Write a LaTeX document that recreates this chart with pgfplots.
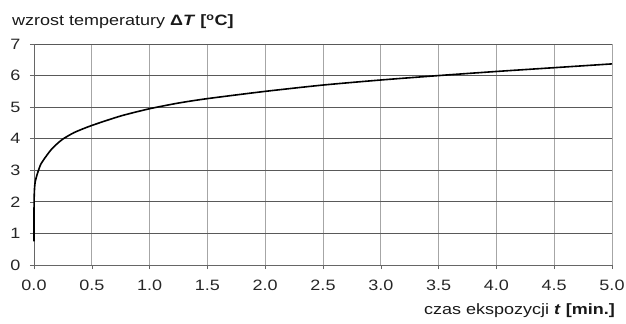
\documentclass[border=0pt]{standalone}
\usepackage{pgfplots}
\pgfplotsset{compat=1.18}
\usepackage{fontspec}
\setmainfont{Liberation Sans}[FakeStretch=1.2]
\begin{document}
\begin{tikzpicture}
\begin{axis}[
  at={(0,0)}, anchor=south west,
  scale only axis,
  width=578bp, height=221bp,
  xmin=0, xmax=5, ymin=0, ymax=7,
  xtick={0,0.5,...,5}, ytick={0,1,...,7},
  xticklabel style={yshift=-8bp, /pgf/number format/.cd,fixed,fixed zerofill,precision=1},
  /pgf/number format/assume math mode=true,
  ticklabel style={font=\fontsize{15bp}{17bp}\selectfont, text=black!85},
  tick align=outside,
  major tick length=4bp,
  tick style={black!60, line width=0.6bp},
  xtick pos=bottom, ytick pos=left,
  axis x line*=bottom, axis y line*=left,
  axis line style={black!60, line width=0.8bp, -},
  grid=major,
  x grid style={black!35, line width=0.8bp},
  y grid style={black!65, line width=0.8bp},
  yticklabel style={xshift=-6bp},
  clip=false,
]
\addplot[black, line width=1.6bp, smooth, tension=0.4] coordinates {
(0,0.75) (0.0005,1.9) (0.002,2.2) (0.005,2.45) (0.01,2.62) (0.02,2.78)
(0.037,2.98) (0.06,3.2) (0.1,3.42) (0.15,3.66) (0.2,3.84) (0.25,3.99)
(0.35,4.2) (0.5,4.42) (0.75,4.72) (1.0,4.95) (1.25,5.13) (1.5,5.27)
(2.0,5.5) (2.5,5.7) (3.0,5.86) (3.5,6.0) (4.0,6.13) (4.5,6.25) (5.0,6.37)
};
\end{axis}
\node[anchor=base west, font=\fontsize{15bp}{17bp}\selectfont, text=black!90, inner sep=0pt] at (-22bp,239bp)
  {wzrost temperatury \textbf{Δ\textit{T} [\textsuperscript{o}C]}};
\node[anchor=base east, font=\fontsize{15bp}{17bp}\selectfont, text=black!90, inner sep=0pt] at (581bp,-49bp)
  {czas ekspozycji \textbf{\textit{t} [min.]}};
\pgfresetboundingbox
\path (-34bp,-59bp) rectangle (592bp,265bp);
\end{tikzpicture}
\end{document}
